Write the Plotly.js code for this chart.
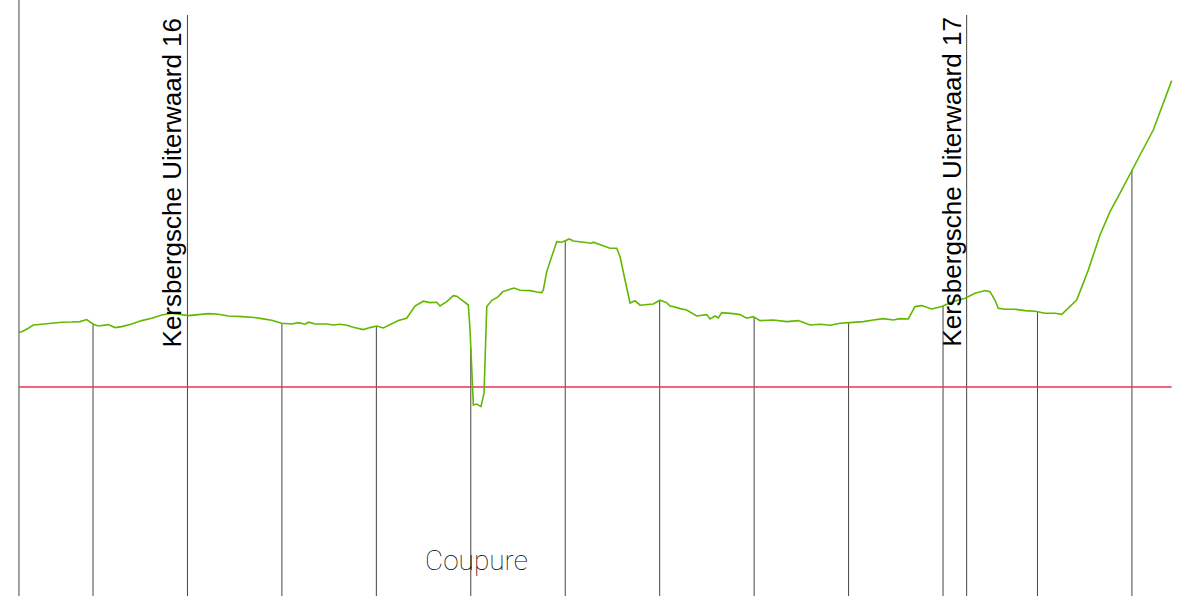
<!DOCTYPE html>
<html>
<head>
<meta charset="utf-8">
<script src="https://cdn.plot.ly/plotly-3.0.1.min.js"></script>
<style>html,body{margin:0;padding:0;background:#fff;}#chart{width:1192px;height:596px;}</style>
</head>
<body>
<div id="chart"></div>
<script>
// Profile: distance along section (m) and surface height (m)
const distance = [21.6,26.2,31.5,36.8,45.7,56.3,66.9,77.4,86.2,93.3,100.3,105.6,116.2,123.3,130.4,141.0,151.6,162.2,172.7,183.3,193.9,200.9,211.5,222.1,232.7,243.3,257.4,268.0,278.6,289.2,299.8,310.4,317.4,324.5,328.0,335.1,347.4,354.4,361.5,368.6,375.6,386.2,393.3,400.4,407.4,414.5,423.3,432.1,435.6,440.9,449.7,456.8,463.9,467.4,474.5,481.5,485.1,490.4,497.4,499.2,501.0,502.7,506.3,510.8,514.0,515.8,516.9,522.1,529.1,533.8,539.7,545.8,552.1,562.7,569.8,575.1,576.8,580.4,585.7,591.0,596.3,599.8,604.3,608.5,619.1,628.0,629.7,636.8,647.4,654.5,658.0,663.3,668.6,673.9,679.2,689.8,693.2,700.3,707.4,710.9,714.4,721.5,728.6,739.2,749.8,753.3,758.6,762.1,765.7,778.0,785.0,792.1,799.1,806.2,820.3,834.5,846.8,859.2,869.7,880.3,890.9,901.5,915.6,926.2,936.8,947.4,954.5,963.2,970.3,977.4,988.0,998.6,1010.9,1023.3,1033.9,1044.4,1049.7,1055.0,1058.5,1065.6,1076.2,1086.8,1097.4,1108.0,1118.6,1125.7,1132.7,1141.5,1145.0,1153.8,1166.2,1176.8,1187.4,1199.8,1208.6,1222.6,1233.2,1242.1];
const height = [10.72,10.80,10.94,11.10,11.14,11.19,11.24,11.25,11.27,11.37,11.14,11.05,11.12,10.97,11.02,11.15,11.32,11.44,11.60,11.69,11.62,11.57,11.62,11.67,11.64,11.55,11.52,11.49,11.42,11.34,11.19,11.15,11.22,11.14,11.24,11.15,11.15,11.10,11.14,11.09,10.99,10.87,10.97,11.05,10.95,11.12,11.32,11.44,11.69,12.05,12.29,12.22,12.24,12.05,12.27,12.57,12.54,12.34,12.10,10.85,8.85,7.10,7.15,7.02,7.69,9.85,12.02,12.32,12.52,12.77,12.85,12.95,12.84,12.82,12.75,12.72,12.85,13.77,14.52,15.27,15.24,15.32,15.40,15.30,15.22,15.19,15.24,15.12,14.94,14.94,14.52,13.35,12.20,12.31,12.09,12.14,12.15,12.34,12.22,12.05,12.02,11.92,11.85,11.55,11.62,11.40,11.55,11.45,11.72,11.67,11.62,11.44,11.52,11.32,11.35,11.27,11.32,11.10,11.14,11.09,11.19,11.22,11.27,11.35,11.42,11.35,11.42,11.40,12.02,12.07,11.90,12.02,12.27,12.44,12.69,12.82,12.77,12.35,11.94,11.89,11.89,11.82,11.79,11.69,11.69,11.63,11.94,12.35,12.77,13.85,15.60,16.77,17.69,18.85,19.60,20.85,22.19,23.32];

// Water level (m)
const waterLevel = 8.0;
// Hectometre stations
const stations = [100,200,300,400,500,600,700,800,900,1000,1100,1200];
// Labelled boundaries (full-height lines)
const boundaryPos = [200, 1025];
const boundaryLabels = ["Kersbergsche Uiterwaard 16", "Kersbergsche Uiterwaard 17"];
const coupureLabel = "Coupure";
const coupurePos = 506;

const xRange = [1.53, 1263.6];
const yRange = [-2.45, 27.35];
const topLine = 26.6;

function interp(x) {
  for (let i = 0; i < distance.length - 1; i++) {
    if (x >= distance[i] && x <= distance[i+1]) {
      const t = (x - distance[i]) / (distance[i+1] - distance[i]);
      return height[i] + t * (height[i+1] - height[i]);
    }
  }
  return height[height.length - 1];
}

const shapes = [];
const lineStyle = {color: '#444', width: 1};
// left edge line
shapes.push({type:'line', xref:'x', yref:'paper', x0: distance[0], x1: distance[0], y0: 0, y1: 1, line: lineStyle, layer:'below'});
stations.forEach(s => {
  if (boundaryPos.indexOf(s) >= 0) return;
  shapes.push({type:'line', xref:'x', yref:'y', x0:s, x1:s, y0:yRange[0], y1:interp(s), line: lineStyle, layer:'below'});
});
boundaryPos.forEach(b => {
  shapes.push({type:'line', xref:'x', yref:'y', x0:b, x1:b, y0:yRange[0], y1:topLine, line: lineStyle, layer:'below'});
});

const annotations = boundaryLabels.map((t, i) => ({
  x: boundaryPos[i], y: topLine, xref:'x', yref:'y', text: t, showarrow:false,
  textangle: -90, xanchor:'right', yanchor:'top', xshift: 2,
  font: {family:'Liberation Sans, Arial, sans-serif', size: 26, color:'#000'}
}));
annotations.push({
  x: coupurePos, y: 0.06, xref:'x', yref:'paper', text: coupureLabel, showarrow:false,
  xanchor:'center', yanchor:'middle',
  font: {family:'Roboto, DejaVu Sans Condensed, sans-serif', size: 28, weight: 100, color:'#000'}
});

const traces = [
  {x: [distance[0], distance[distance.length-1]], y: [waterLevel, waterLevel], mode:'lines',
   line:{color:'#e8305a', width:1.5}, hoverinfo:'skip'},
  {x: distance, y: height, mode:'lines', line:{color:'#62b800', width:1.6}, hoverinfo:'skip'}
];

const layout = {
  width: 1192, height: 596,
  margin: {l:0, r:0, t:0, b:0},
  paper_bgcolor:'#fff', plot_bgcolor:'#fff',
  showlegend:false,
  xaxis: {range: xRange, visible:false, showgrid:false, zeroline:false},
  yaxis: {range: yRange, visible:false, showgrid:false, zeroline:false},
  shapes: shapes,
  annotations: annotations
};
Plotly.newPlot('chart', traces, layout, {staticPlot:true, displayModeBar:false});
</script>
</body>
</html>
